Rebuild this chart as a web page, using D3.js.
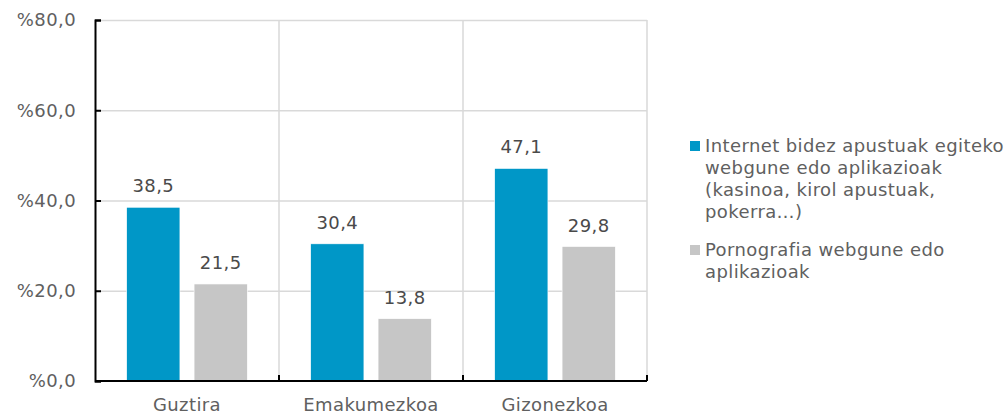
<!DOCTYPE html>
<html>
<head>
<meta charset="utf-8">
<script src="https://cdn.jsdelivr.net/npm/d3@7"></script>
<style>
  body { margin: 0; background: #fff; }
  svg { font-family: "DejaVu Sans", Verdana, sans-serif; letter-spacing: 0.4px; }
</style>
</head>
<body>
<div id="chart"></div>
<script>
var categories = ["Guztira", "Emakumezkoa", "Gizonezkoa"];
var seriesNames = [
    ["Internet bidez apustuak egiteko", "webgune edo aplikazioak", "(kasinoa, kirol apustuak,", "pokerra…)"],
    ["Pornografia webgune edo", "aplikazioak"]
];
var gambling = [38.5, 30.4, 47.1];
var porn = [21.5, 13.8, 29.8];
var yTicks = [0, 20, 40, 60, 80];
var colors = ["#0097c7", "#c6c6c6"];

var width = 1007,
    height = 414;
var margin = {left: 95, top: 20, right: 360, bottom: 33};
var fontSize = '18px';

var svg = d3.select('#chart').append('svg')
    .attr('width', width)
    .attr('height', height);

var x = d3.scaleBand()
    .domain(categories)
    .range([margin.left, width - margin.right])
    .padding(0);

var x1 = d3.scaleBand()
    .domain([0, 1])
    .range([0, x.bandwidth()])
    .paddingInner(0.21)
    .paddingOuter(0.47);

var y = d3.scaleLinear()
    .domain([0, 80])
    .range([height - margin.bottom, margin.top]);

// gridlines
var grid = svg.append('g').attr('class', 'grid');
grid.selectAll('line.h')
    .data(yTicks.slice(1))
    .enter().append('line')
    .attr('x1', margin.left)
    .attr('x2', width - margin.right)
    .attr('y1', function(d) { return y(d) + 0.5; })
    .attr('y2', function(d) { return y(d) + 0.5; })
    .attr('stroke', '#d9d9d9')
    .attr('stroke-width', 1.5);
grid.selectAll('line.v')
    .data(categories)
    .enter().append('line')
    .attr('x1', function(d) { return x(d) + x.bandwidth(); })
    .attr('x2', function(d) { return x(d) + x.bandwidth(); })
    .attr('y1', y(80))
    .attr('y2', y(0))
    .attr('stroke', '#d9d9d9')
    .attr('stroke-width', 1.5);

// bars
var rows = categories.map(function(c, i) {
    return {cat: c, vals: [gambling[i], porn[i]]};
});
var groups = svg.append('g').selectAll('g')
    .data(rows)
    .enter().append('g')
    .attr('transform', function(d) { return 'translate(' + x(d.cat) + ',0)'; });

groups.selectAll('rect')
    .data(function(d) { return d.vals; })
    .enter().append('rect')
    .attr('x', function(d, i) { return x1(i); })
    .attr('width', x1.bandwidth())
    .attr('y', function(d) { return y(d); })
    .attr('height', function(d) { return y(0) - y(d); })
    .attr('fill', function(d, i) { return colors[i]; })
    .attr('stroke', '#fff')
    .attr('stroke-width', 0.6);

groups.selectAll('text')
    .data(function(d) { return d.vals; })
    .enter().append('text')
    .attr('x', function(d, i) { return x1(i) + x1.bandwidth() / 2; })
    .attr('y', function(d) { return y(d) - 15; })
    .attr('text-anchor', 'middle')
    .attr('fill', '#4a4a4a')
    .style('font-size', fontSize)
    .text(function(d) { return d.toFixed(1).replace('.', ','); });

// y axis
var yAxis = d3.axisLeft(y)
    .tickValues(yTicks)
    .tickSize(-6)
    .tickPadding(19)
    .tickFormat(function(d) { return '%' + d.toFixed(1).replace('.', ','); });
var yg = svg.append('g')
    .attr('transform', 'translate(' + margin.left + ',0)')
    .call(yAxis);
yg.select('.domain').attr('stroke', '#000').attr('stroke-width', 2);
yg.selectAll('.tick line').attr('stroke', '#000').attr('stroke-width', 2);
yg.selectAll('.tick text')
    .attr('fill', '#606060')
    .style('font-size', fontSize)
    .style('font-family', '"DejaVu Sans", Verdana, sans-serif');

// x axis
var xg = svg.append('g')
    .attr('transform', 'translate(0,' + y(0) + ')');
xg.append('line')
    .attr('x1', margin.left)
    .attr('x2', width - margin.right)
    .attr('stroke', '#000')
    .attr('stroke-width', 2);
xg.selectAll('line.tk')
    .data(categories)
    .enter().append('line')
    .attr('x1', function(d) { return x(d) + x.bandwidth(); })
    .attr('x2', function(d) { return x(d) + x.bandwidth(); })
    .attr('y1', 0)
    .attr('y2', -6)
    .attr('stroke', '#000')
    .attr('stroke-width', 2);
xg.selectAll('text')
    .data(categories)
    .enter().append('text')
    .attr('x', function(d) { return x(d) + x.bandwidth() / 2; })
    .attr('y', 30)
    .attr('text-anchor', 'middle')
    .attr('fill', '#606060')
    .style('font-size', fontSize)
    .text(function(d) { return d; });

// legend
var legendTop = [152, 256];
var legend = svg.append('g').selectAll('g')
    .data(seriesNames)
    .enter().append('g')
    .attr('transform', function(d, i) { return 'translate(690,' + legendTop[i] + ')'; });
legend.append('rect')
    .attr('x', 0)
    .attr('y', -11)
    .attr('width', 10)
    .attr('height', 10)
    .attr('fill', function(d, i) { return colors[i]; });
legend.append('text')
    .attr('fill', '#606060')
    .style('font-size', fontSize)
    .selectAll('tspan')
    .data(function(d) { return d; })
    .enter().append('tspan')
    .attr('x', 15)
    .attr('y', function(d, i) { return i * 22; })
    .text(function(d) { return d; });
</script>
</body>
</html>
